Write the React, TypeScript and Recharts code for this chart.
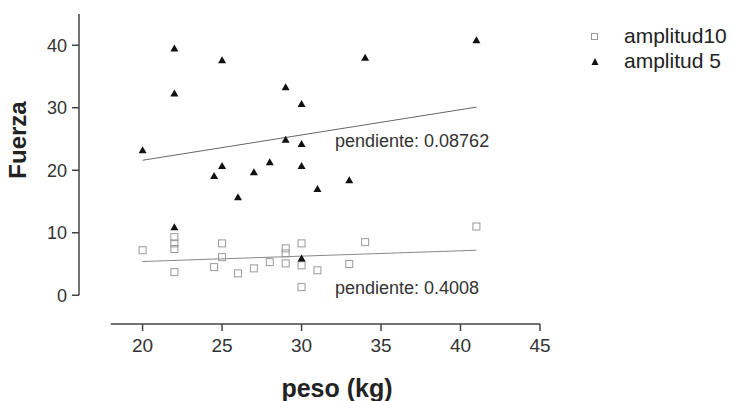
import { ScatterChart, Scatter, XAxis, YAxis, ReferenceLine, Label } from 'recharts'

// amplitud10 (squares)
const pesoA10 = [20, 22, 22, 22, 22, 24.5, 25, 25, 26, 27, 28, 29, 29, 29, 30, 30, 30, 31, 33, 34, 41]
const fuerzaA10 = [7.2, 9.3, 8.3, 7.4, 3.7, 4.5, 8.3, 6.1, 3.5, 4.3, 5.3, 7.5, 6.7, 5.1, 8.3, 4.8, 1.3, 4.0, 5.0, 8.5, 11.0]

// amplitud 5 (triangles)
const pesoA5 = [20, 22, 22, 22, 24.5, 25, 25, 26, 27, 28, 29, 29, 30, 30, 30, 30, 31, 33, 34, 41]
const fuerzaA5 = [23.2, 39.5, 32.3, 10.9, 19.1, 37.6, 20.7, 15.7, 19.7, 21.3, 33.3, 24.9, 30.6, 24.2, 20.7, 5.9, 17, 18.4, 38, 40.8]

// fitted lines, endpoints
const trendX = [20, 41]
const trendA5 = [21.6, 30.1]
const trendA10 = [5.4, 7.2]

const xTicks = [20, 25, 30, 35, 40, 45]
const yTicks = [0, 10, 20, 30, 40]

const a10 = pesoA10.map((x, i) => ({ x, y: fuerzaA10[i] }))
const a5 = pesoA5.map((x, i) => ({ x, y: fuerzaA5[i] }))

const font = '"Liberation Sans", Arial, sans-serif'
const axisColor = '#444'

const Square = (props: any) => {
  const { cx, cy } = props
  return <rect x={cx - 3.5} y={cy - 3.5} width={7} height={7} fill="none" stroke="#999" strokeWidth={1} />
}

const Tri = (props: any) => {
  const { cx, cy } = props
  return <path d={`M${cx},${cy - 4} L${cx + 4},${cy + 3} L${cx - 4},${cy + 3} Z`} fill="#111" />
}

export default function App() {
  return (
    <div style={{ position: 'absolute', left: 0, top: 0, width: 744, height: 401, background: '#fff', fontFamily: font }}>
      <ScatterChart width={744} height={401} margin={{ top: 14, right: 204, bottom: 0, left: 0 }}>
        <XAxis
          type="number"
          dataKey="x"
          domain={[16, 45]}
          ticks={xTicks}
          axisLine={false}
          tickLine={{ stroke: axisColor, strokeWidth: 1.5 }}
          tickSize={7}
          height={77}
          tick={{ fill: '#333', fontSize: 19, fontFamily: font, dy: 6 }}
        >
          <Label
            content={({ viewBox }: any) => (
              <text x={337} y={viewBox.y + viewBox.height - 4} textAnchor="middle" fontSize={25} fontWeight="bold" fill="#222" fontFamily={font}>
                peso (kg)
              </text>
            )}
          />
        </XAxis>
        <YAxis
          type="number"
          dataKey="y"
          domain={[-4.6, 45]}
          ticks={yTicks}
          axisLine={false}
          tickLine={{ stroke: axisColor, strokeWidth: 1.5 }}
          tickSize={7}
          width={79}
          tick={{ fill: '#333', fontSize: 18, fontFamily: font, dx: -3 }}
        >
          <Label
            content={() => (
              <text x={26} y={140} transform="rotate(-90 26 140)" textAnchor="middle" fontSize={24} fontWeight="bold" fill="#222" fontFamily={font}>
                Fuerza
              </text>
            )}
          />
        </YAxis>
        <ReferenceLine segment={[{ x: 18, y: -4.6 }, { x: 45, y: -4.6 }]} stroke={axisColor} strokeWidth={1.5} ifOverflow="visible" />
        <ReferenceLine segment={[{ x: 16, y: 0 }, { x: 16, y: 45 }]} stroke={axisColor} strokeWidth={1.5} ifOverflow="visible" />
        <ReferenceLine segment={[{ x: trendX[0], y: trendA5[0] }, { x: trendX[1], y: trendA5[1] }]} stroke="#666" strokeWidth={1} />
        <ReferenceLine segment={[{ x: trendX[0], y: trendA10[0] }, { x: trendX[1], y: trendA10[1] }]} stroke="#888" strokeWidth={1} />
        <Scatter name="amplitud10" data={a10} shape={Square} isAnimationActive={false} />
        <Scatter name="amplitud 5" data={a5} shape={Tri} isAnimationActive={false} />
      </ScatterChart>

      <div style={{ position: 'absolute', left: 335, top: 131, fontSize: 18, color: '#333', whiteSpace: 'nowrap' }}>pendiente: 0.08762</div>
      <div style={{ position: 'absolute', left: 335, top: 278, fontSize: 18, color: '#333', whiteSpace: 'nowrap' }}>pendiente: 0.4008</div>

      <svg style={{ position: 'absolute', left: 585, top: 28 }} width={20} height={45}>
        <rect x={6.5} y={5.5} width={6} height={6} fill="none" stroke="#999" />
        <path d="M10,30 L13.5,37 L6.5,37 Z" fill="#111" />
      </svg>
      <div style={{ position: 'absolute', left: 624, top: 24, fontSize: 21, color: '#222', whiteSpace: 'nowrap' }}>amplitud10</div>
      <div style={{ position: 'absolute', left: 624, top: 49, fontSize: 21, color: '#222', whiteSpace: 'nowrap' }}>amplitud 5</div>
    </div>
  )
}
